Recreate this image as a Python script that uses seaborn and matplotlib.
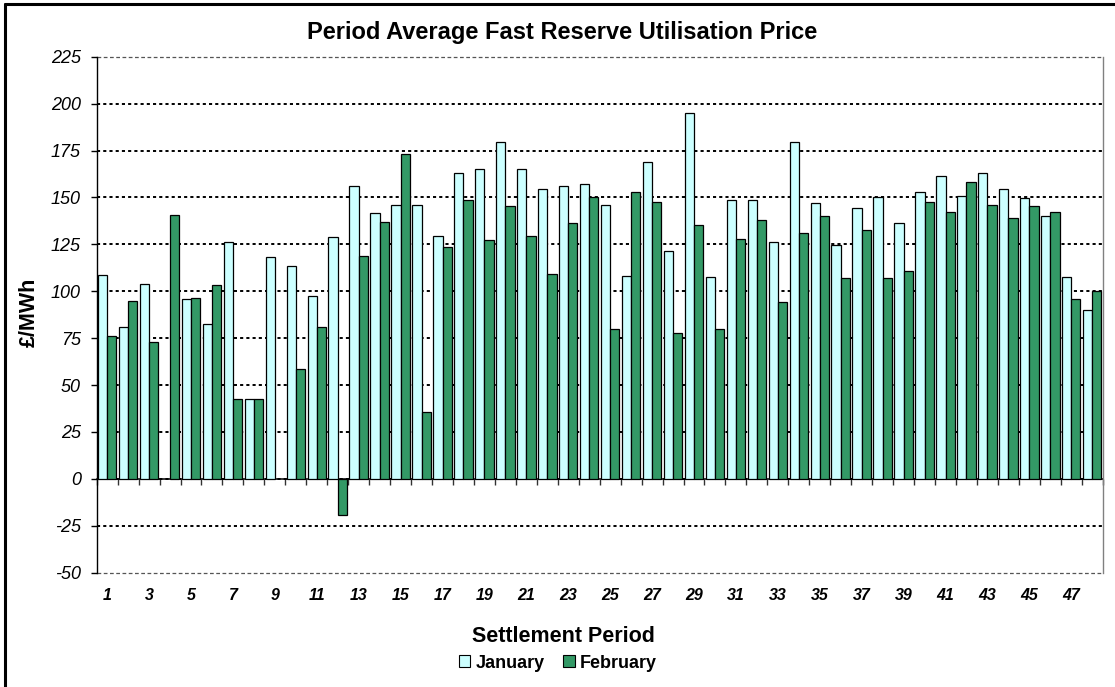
import numpy as np
import pandas as pd
import matplotlib
matplotlib.use("Agg")
import matplotlib.pyplot as plt
import seaborn as sns
from matplotlib.patches import Patch
from matplotlib.lines import Line2D

# ---------------- data ----------------
periods = [str(i) for i in range(1, 49)]
january = [108.5, 81.0, 104.0, np.nan, 96.0, 82.5, 126.4, 42.4, 118.5, 113.6,
           97.2, 129.0, 156.2, 141.8, 146.0, 146.0, 129.4, 162.9, 165.4, 179.4,
           165.4, 154.3, 156.2, 156.9, 146.0, 108.0, 169.1, 121.6, 195.0, 107.5,
           148.8, 148.8, 126.2, 179.4, 147.2, 124.8, 144.5, 150.0, 136.6, 153.0,
           161.3, 150.6, 162.9, 154.3, 149.5, 140.2, 107.5, 89.9]
february = [76.2, 94.7, 72.7, 140.4, 96.6, 103.2, 42.4, 42.4, np.nan, 58.4,
            81.0, -19.5, 119.0, 136.8, 172.9, 35.7, 123.4, 148.4, 127.1, 145.2,
            129.4, 109.3, 136.6, 150.0, 80.0, 153.0, 147.7, 77.7, 135.4, 80.0,
            127.6, 138.1, 94.3, 130.8, 140.2, 106.8, 132.4, 106.8, 111.0, 147.7,
            142.2, 158.1, 146.1, 138.8, 145.2, 142.2, 95.7, 100.0]
series_names = ["January", "February"]
series_colors = ["#CCFFFF", "#339966"]
y_ticks = [-50, -25, 0, 25, 50, 75, 100, 125, 150, 175, 200, 225]
x_tick_labels = periods[::2]

title = "Period Average Fast Reserve Utilisation Price"
x_title = "Settlement Period"
y_title = "£/MWh"

df = pd.DataFrame({
    "Period": periods * 2,
    "Series": [series_names[0]] * len(periods) + [series_names[1]] * len(periods),
    "Price": january + february,
}).dropna()

# ---------------- style ----------------
sns.set_style("white")
plt.rcParams["font.family"] = ["Liberation Sans", "DejaVu Sans"]
plt.rcParams["text.color"] = "black"
plt.rcParams["xtick.color"] = "black"
plt.rcParams["ytick.color"] = "black"
plt.rcParams["axes.labelcolor"] = "black"

W, H = 1115, 687
fig = plt.figure(figsize=(W / 100, H / 100), dpi=100)
fig.patch.set_facecolor("white")

left, right, top, bottom = 96.7, 1102.7, 56.7, 572.7
ax = fig.add_axes([left / W, 1 - bottom / H, (right - left) / W, (bottom - top) / H])

sns.barplot(data=df, x="Period", y="Price", hue="Series", order=periods,
            hue_order=series_names, palette=series_colors, saturation=1,
            width=0.88, edgecolor="black", linewidth=0.9, errorbar=None,
            legend=False, ax=ax)

ax.set_xlim(-0.5, len(periods) - 0.5)
ax.set_ylim(y_ticks[0], y_ticks[-1])
ax.set_yticks(y_ticks)
ax.set_yticklabels([str(v) for v in y_ticks], fontstyle="italic", fontsize=13,
                   color="black")
ax.set_xticks(range(0, len(periods), 2))
ax.set_xticklabels(x_tick_labels, fontstyle="italic", fontweight="bold",
                   fontsize=11.5, color="black")
ax.set_xlabel("")
ax.set_ylabel("")

ax.tick_params(axis="y", left=True, direction="out", length=4.5, width=1,
               color="black", pad=7)
ax.tick_params(axis="x", bottom=False, length=0, pad=11)

ax.set_axisbelow(True)
ax.yaxis.grid(True, color="black", linestyle=(0, (1.6, 1.6)), linewidth=1.4)
ax.xaxis.grid(False)
glines = ax.get_ygridlines()
for gi in (0, len(glines) - 1):
    glines[gi].set_color("#555555")
    glines[gi].set_linewidth(0.9)
    glines[gi].set_linestyle((0, (3, 2)))
    glines[gi].set_clip_on(False)

for s in ("top", "bottom"):
    ax.spines[s].set_visible(False)
ax.spines["left"].set_color("black")
ax.spines["left"].set_linewidth(1.0)
ax.spines["right"].set_color("#808080")
ax.spines["right"].set_linewidth(1.0)

# zero line with category boundary ticks
zero_pos = (0 - y_ticks[0]) / (y_ticks[-1] - y_ticks[0])
sec = ax.secondary_xaxis(zero_pos)
sec.set_xticks(np.arange(-0.5, len(periods), 1.0))
sec.tick_params(axis="x", bottom=True, top=False, direction="out", length=4,
                width=1, color="#333333", labelbottom=False, labeltop=False)
sec.spines["bottom"].set_color("black")
sec.spines["bottom"].set_linewidth(1.1)

# texts
fig.text(562 / W, 1 - 33 / H, title, ha="center", va="center",
         fontsize=17, fontweight="bold", color="black")
fig.text(563 / W, 1 - 637 / H, x_title, ha="center", va="center",
         fontsize=15.5, fontweight="bold", color="black")
fig.text(29 / W, 1 - 312 / H, y_title, ha="center", va="center",
         rotation=90, fontsize=15.5, fontweight="bold", color="black")

handles = [Patch(facecolor=c, edgecolor="black", linewidth=0.8) for c in series_colors]
fig.legend(handles, series_names, loc="center", bbox_to_anchor=(558 / W, 1 - 663 / H),
           ncol=2, frameon=False, prop={"weight": "bold", "size": 13},
           handlelength=0.65, handleheight=0.65, handletextpad=0.3,
           columnspacing=1.0, borderaxespad=0, labelcolor="black")

# outer frame (left and top visible in the reference)
fig.add_artist(Line2D([5.3 / W, 5.3 / W], [0, 1 - 3.7 / H], transform=fig.transFigure,
                      color="black", linewidth=2.2))
fig.add_artist(Line2D([5.3 / W, 1], [1 - 3.7 / H, 1 - 3.7 / H], transform=fig.transFigure,
                      color="black", linewidth=2.2))

fig.savefig("out.png", dpi=100)
